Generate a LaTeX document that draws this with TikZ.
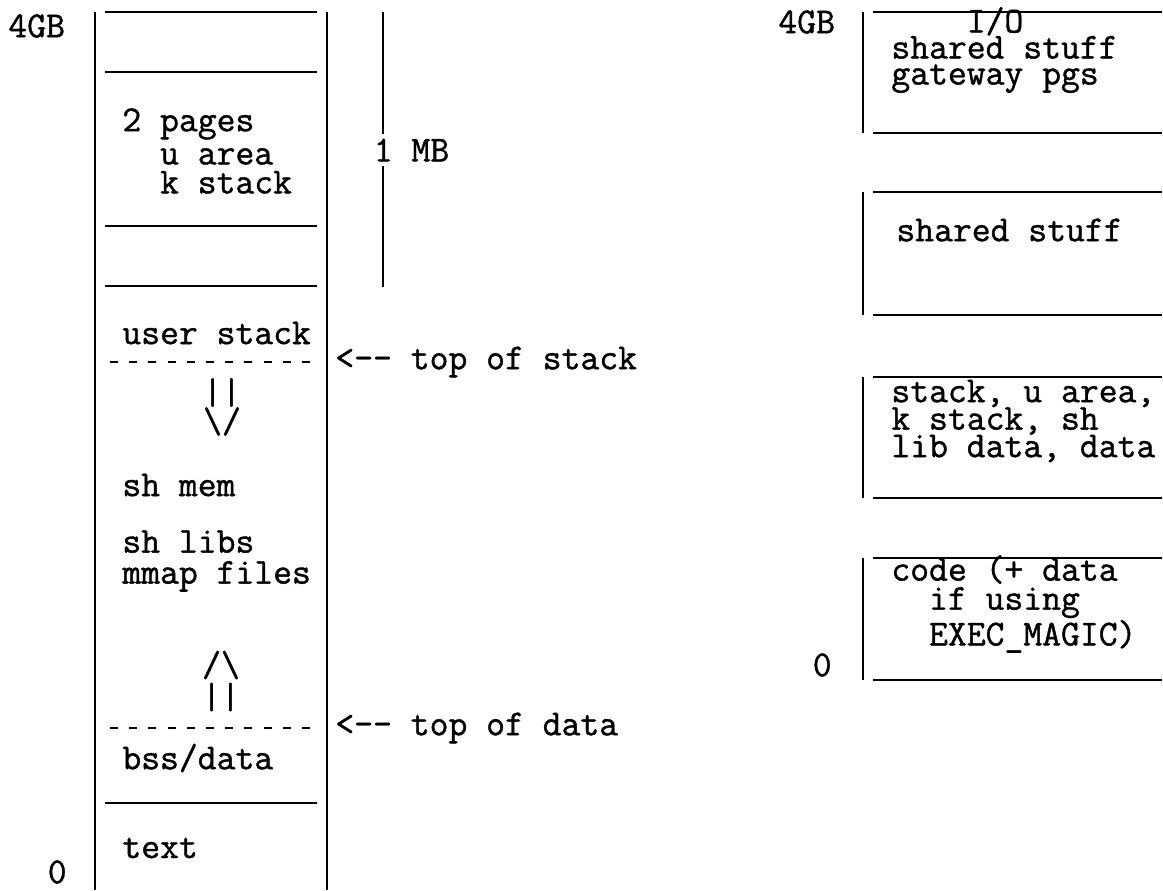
\documentclass[tikz,border=0pt]{standalone}
\usepackage{fontspec}
\setmonofont{Latin Modern Mono}[FakeBold=1.1]
\newcommand\memfont[1]{\ttfamily\fontsize{18.3}{#1}\selectfont}
\begin{document}
\begin{tikzpicture}[x=0.5pt, y=-0.5pt,
  rule/.style={line width=1.2pt},
  cut/.style={line width=1.1pt, dash pattern=on 4pt off 5.6pt},
  typed/.style={font=\memfont{14.5}, inner sep=0pt, anchor=west, align=left},
  glyph/.style={font=\memfont{14.5}, inner sep=0pt, align=center}]
\useasboundingbox (0,0) rectangle (1163,890);
% process address space
\draw[rule] (95,12) -- (95,890);
\draw[rule] (327,12) -- (327,890);
\foreach \y in {12,72,226,286,803}
  \draw[rule] (105,\y) -- (317,\y);
\draw[cut] (110,362) -- (310,362);
\draw[cut] (110,728) -- (310,728);
\node[typed] (top4gb) at (8,26) {4GB};
\node[typed] (bottom0) at (47.4,872) {0};
\node[typed] (upages) at (122,151) {2 pages\\\phantom{22}u area\\\phantom{22}k stack};
\node[typed] (ustack) at (122,333) {user stack};
\node[typed] (stacktop) at (335,362) {<-{}- top of stack};
\node[glyph] (growdown) at (222,407) {||\\\textbackslash/};
\node[typed] (shmem) at (122,485) {sh mem};
\node[typed, font=\memfont{15.5}] (shlibs) at (122,561) {sh libs\\mmap files};
\node[glyph, font=\memfont{16}] (growup) at (221,681) {/\textbackslash\\||};
\node[typed] (datatop) at (335,728) {<-{}- top of data};
\node[typed] (bss) at (122,758) {bss/data};
\node[typed] (txt) at (122,848) {text};
% 1 MB span
\node[typed, inner ysep=2pt] (onemb) at (373.4,150) {1 MB};
\coordinate (mbtop) at (383,12);
\coordinate (mbbot) at (383,287);
\draw[rule] (mbtop) -- (mbtop |- onemb.north);
\draw[rule] (mbbot) -- (mbbot |- onemb.south);
% physical layout
\foreach \a/\b in {12/133,192/315,377/498,558/680} {
  \draw[rule] (863,\a) -- (863,\b);
  \draw[rule] (873,\a) -- (1162,\a);
  \draw[rule] (873,\b) -- (1162,\b);
}
\node[typed] (top4gbk) at (778,22) {4GB};
\node[typed, font=\memfont{13}] (gateway) at (891,50) {\phantom{2222}I/O\\shared stuff\\gateway pgs};
\node[typed] (shared) at (896,230) {shared stuff};
\node[typed, font=\memfont{13.75}] (perproc) at (891,421) {stack, u area,\\k stack, sh\\lib data, data};
\node[typed] (code) at (891,604) {code (+ data\\\phantom{22}if using\\\phantom{22}EXEC\_MAGIC)};
\node[typed] (bottom0k) at (812.4,665) {0};
\end{tikzpicture}
\end{document}
